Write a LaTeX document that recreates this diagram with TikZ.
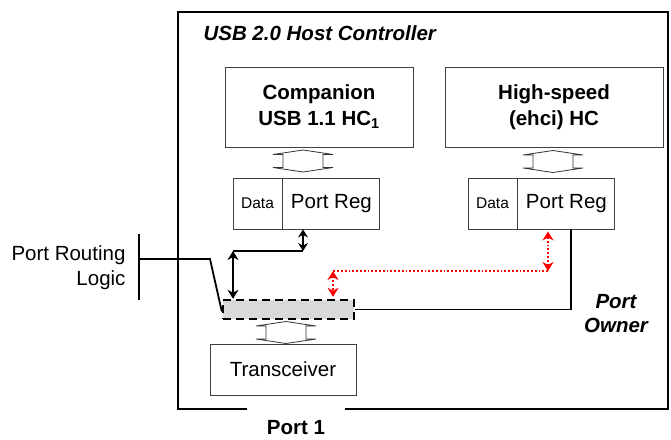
\documentclass[tikz,border=0pt]{standalone}
\usepackage{fontspec}
\setmainfont{Liberation Sans}
\usetikzlibrary{arrows.meta,calc}
\begin{document}
\begin{tikzpicture}[x=1pt,y=-1pt,
  box/.style={draw=black!75, line width=0.9pt, inner sep=0pt, minimum height=51pt},
  bigbox/.style={draw=black!75, line width=0.9pt, inner sep=0pt, minimum height=80pt, align=center,
     font=\fontsize{20.5}{26}\selectfont\bfseries},
  big/.style={font=\fontsize{20.5}{25}\selectfont},
  small/.style={font=\fontsize{15.5}{18}\selectfont},
  wire/.style={line width=1.8pt, black},
  bdbl/.style={line width=1.8pt, black, {Stealth[length=9pt,width=11pt]}-{Stealth[length=9pt,width=11pt]}},
  sdbl/.style={line width=1.8pt, black, {Stealth[length=8pt,width=10pt]}-{Stealth[length=8pt,width=10pt]}},
  rdbl/.style={line width=1.8pt, red, dotted, {Stealth[length=9pt,width=11pt]}-{Stealth[length=9pt,width=11pt]}},
  rdot/.style={line width=1.8pt, red, dotted},
  hollow/.pic={\draw[line width=0.8pt, draw=black!80, fill=white]
     (0,-11) -- (30,-6.5) -- (20,-6.5) -- (20,6.5) -- (30,6.5) -- (0,11) -- (-30,6.5)
     -- (-20,6.5) -- (-20,-6.5) -- (-30,-6.5) -- cycle;}
]
\useasboundingbox (0,0) rectangle (671,439);

% outer host controller box with gap for port
\draw[line width=2pt] (247,409) -- (178,409) -- (178,12) -- (668,12) -- (668,409) -- (345,409);
\node[anchor=west, font=\fontsize{20.5}{24}\selectfont\bfseries\itshape] (title) at (200,33) {USB 2.0 Host Controller};

% host controllers
\node[bigbox, minimum width=188pt] (comp) at (319,107) {Companion\\USB 1.1 HC\textsubscript{1}};
\node[bigbox, minimum width=218pt] (hs) at (554,107) {High-speed\\(ehci) HC};

% port registers
\node[box, minimum width=49pt, small] (dataL) at (257.5,203.5) {Data};
\node[box, minimum width=97pt, big, anchor=west] (regL) at (dataL.east) {Port Reg};
\node[box, minimum width=49pt, small] (dataR) at (492.5,203.5) {Data};
\node[box, minimum width=97pt, big, anchor=west] (regR) at (dataR.east) {Port Reg};

% hollow bus arrows
\pic at (303,161) {hollow};
\pic at (553,161.5) {hollow};
\pic at (286,332.5) {hollow};

% mux (dashed) and transceiver
\node[draw=black, dashed, line width=2.4pt, dash pattern=on 8pt off 5pt, fill=black!15,
      minimum width=131pt, minimum height=19pt, inner sep=0pt] (mux) at (288.5,309.5) {};
\node[box, minimum width=146pt, big] (xcvr) at (283,369.5) {Transceiver};

% labels
\node[big, align=right, anchor=east] (prl) at (129,267.5) {Port Routing\\Logic};
\node[font=\fontsize{20.5}{23.5}\selectfont\bfseries\itshape, align=center] (po) at (616,313.5) {Port\\Owner};
\node[font=\fontsize{20.5}{24}\selectfont\bfseries] (port1) at (296,428) {Port 1};

% port routing logic connection
\coordinate (barT) at (139,234);
\coordinate (barB) at (139,300);
\coordinate (prlJ) at (139,259);
\coordinate (prlK) at (210,259);
\draw[wire] (barT) -- (barB);
\draw[wire] (prlJ) -- (prlK) -- ($(mux.west)+(0,2)$);

% companion port reg control path
\coordinate (a1) at (303,251);
\coordinate (a2) at (233,251);
\draw[sdbl] (regL.south -| a1) -- (a1);
\draw[wire] (a1) -- (a2);
\draw[bdbl] (a2) -- (a2 |- mux.north);

% port owner line
\coordinate (pow) at (571,309.5);
\draw[wire] (mux.east) -- (pow) -- (pow |- regR.south);

% red dotted path
\coordinate (r1) at (548,271);
\coordinate (r2) at (333,271);
\draw[rdbl] ($(regR.south -| r1)+(0,2)$) -- (r1);
\draw[rdot] (r1) -- (r2);
\draw[rdbl] (r2) -- ($(r2 |- mux.north)+(0,-2)$);
\end{tikzpicture}
\end{document}
